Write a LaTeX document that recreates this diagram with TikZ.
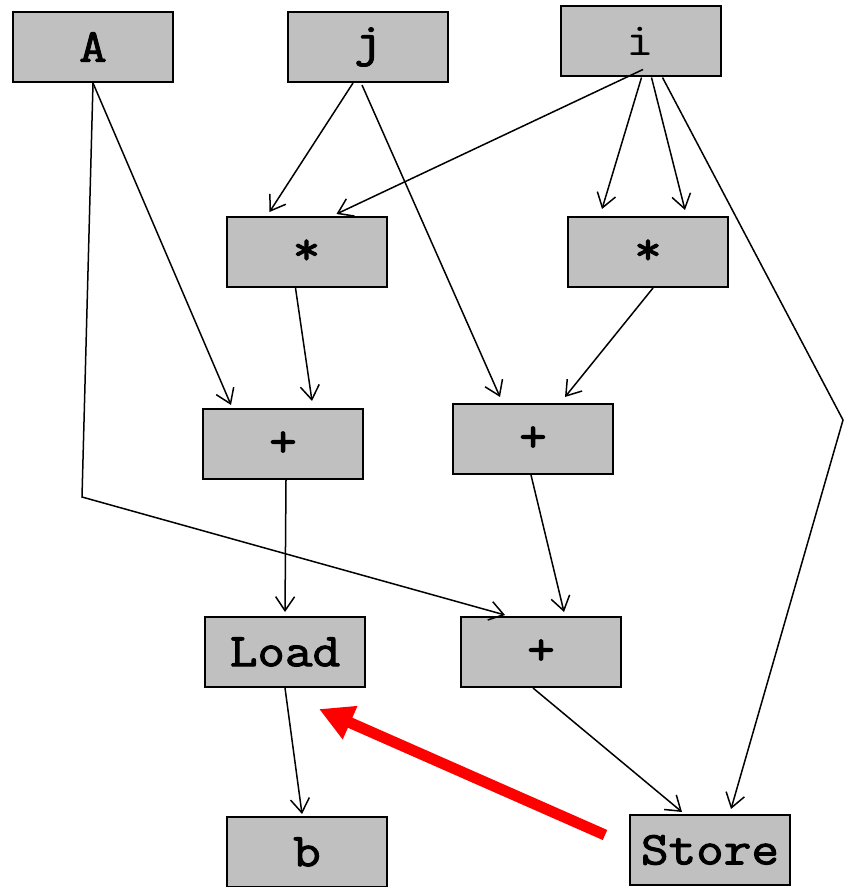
\documentclass[tikz,border=0pt]{standalone}
\usepackage{fontspec}
\newfontfamily\opfont{Latin Modern Mono}[FakeBold=2.2, FakeStretch=1.14]
\newfontfamily\opthinfont{Latin Modern Mono}[FakeStretch=1.14]
\usepackage{tikz}
\usetikzlibrary{arrows.meta,calc}

\definecolor{opgray}{RGB}{192,192,192}
\tikzset{
  op/.style={draw=black, line width=1pt, fill=opgray, minimum width=80pt,
    minimum height=35pt, inner sep=0pt, font=\fontsize{23.5}{23.5}\selectfont\opfont},
  dep/.style={line width=0.75pt, -{Straight Barb[length=7pt,width=9.5pt]}},
  hazard/.style={red, line width=5.5pt, -{Triangle[length=17pt,width=17pt]}}
}

\begin{document}
\begin{tikzpicture}[x=0.5pt,y=-0.5pt]
    \useasboundingbox (0,0) rectangle (844,887);

    % inputs
    \node[op] (A) at (93,47) {A};
    \node[op] (j) at (368,47) {j};
    \node[op, font=\fontsize{23.5}{23.5}\selectfont\opthinfont] (i) at (640.5,41.5) {i};

    % operations
    \node[op] (m1) at (306.5,252) {*};
    \node[op] (m2) at (648,252) {*};
    \node[op] (p1) at (283,444) {+};
    \node[op] (p2) at (533,439) {+};
    \node[op] (load) at (285,652) {Load};
    \node[op] (p3) at (541,652) {+};
    \node[op] (b) at (307,852) {b};
    \node[op] (store) at (710,850) {Store};

    % dependences
    \draw[dep] (A.south) -- ($(p1.north)+(-52,-3)$);
    \draw[dep] (A.south) -- (82,497) -- ($(p3.north)+(-36,-1)$);
    \draw[dep] ($(j.south)+(-15,0)$) -- ($(m1.north)+(-37,-4)$);
    \draw[dep] ($(j.south)+(-6,2)$) -- ($(p2.north)+(-33,-6)$);
    \draw[dep] ($(i.south)+(2.5,-8)$) -- ($(m1.north)+(30,-2)$);
    \draw[dep] ($(i.south)+(1,0)$) -- ($(m2.north)+(-46,-7)$);
    \draw[dep] ($(i.south)+(11,0)$) -- ($(m2.north)+(37,-6)$);
    \draw[dep] ($(i.south)+(22,0)$) -- (843,420) -- ($(store.north)+(21,-5)$);
    \draw[dep] ($(m1.south)+(-11,0)$) -- ($(p1.north)+(29,-7)$);
    \draw[dep] ($(m2.south)+(5,0)$) -- ($(p2.north)+(32,-6)$);
    \draw[dep] ($(p1.south)+(3,0)$) -- ($(load.north)+(0,-4)$);
    \draw[dep] ($(p2.south)+(-2,0)$) -- ($(p3.north)+(23,-4)$);
    \draw[dep] (load.south) -- ($(b.north)+(-5,-2)$);
    \draw[dep] ($(p3.south)+(-8,0)$) -- ($(store.north)+(-28,-2)$);

    % store -> load
    \coordinate (redtail) at ($(store.west)+(-24,-15)$);
    \coordinate (redtip) at ($(load.south east)+(-47,21)$);
    \draw[hazard] (redtail) -- (redtip);
\end{tikzpicture}
\end{document}
